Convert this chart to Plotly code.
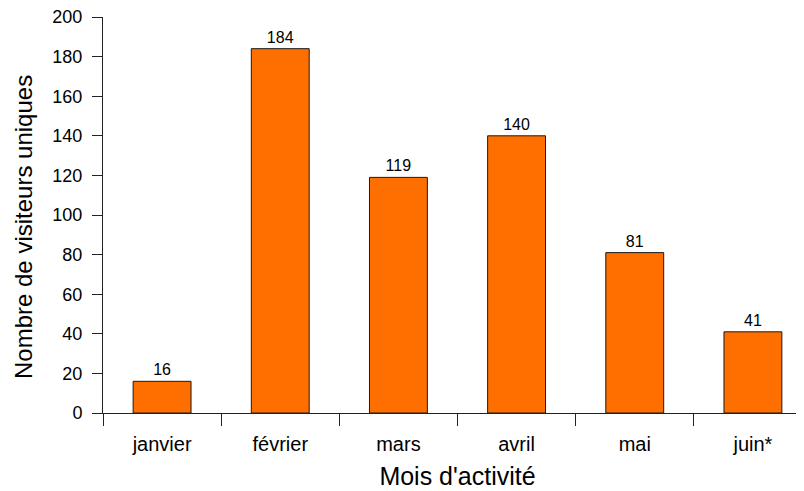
import plotly.graph_objects as go

# données
mois = ["janvier", "février", "mars", "avril", "mai", "juin*"]
visiteurs = [16, 184, 119, 140, 81, 41]

fig = go.Figure(go.Bar(
    x=mois,
    y=visiteurs,
    text=visiteurs,
    textposition="outside",
    textfont=dict(size=16, color="black"),
    cliponaxis=False,
    marker=dict(color="#FF6F00", line=dict(color="#1a1a1a", width=1)),
))

# la page ajoute une marge de 8 px autour du graphique
fig.update_layout(
    width=804, height=491,
    margin=dict(l=95, r=0, t=9, b=86),
    paper_bgcolor="white", plot_bgcolor="white",
    font=dict(family="Liberation Sans, Arial, sans-serif", color="black"),
    bargap=0.51,
    showlegend=False,
)
fig.update_xaxes(
    range=[-0.5, 5.5], automargin=False,
    showline=True, linecolor="#222", linewidth=1,
    ticks="outside", tickson="boundaries", ticklen=12, tickcolor="#222",
    tickfont=dict(size=20), ticklabelstandoff=13, ticklabeloverflow="allow",
    title=dict(text="Mois d'activité", font=dict(size=25), standoff=13),
    showgrid=False, zeroline=False,
)
fig.update_yaxes(
    range=[0, 200], dtick=20, automargin=False,
    showline=True, linecolor="#222", linewidth=1,
    ticks="outside", ticklen=10, tickcolor="#222",
    tickfont=dict(size=18), ticklabelstandoff=6, ticklabeloverflow="allow",
    showgrid=False, zeroline=False,
)

# titre de l'axe y
fig.add_annotation(
    text="Nombre de visiteurs uniques",
    xref="paper", yref="paper", x=0, y=0.5,
    xanchor="center", yanchor="middle",
    textangle=-90, xshift=-80, yshift=-12, showarrow=False,
    font=dict(size=24),
)

fig.write_html("out.html")
